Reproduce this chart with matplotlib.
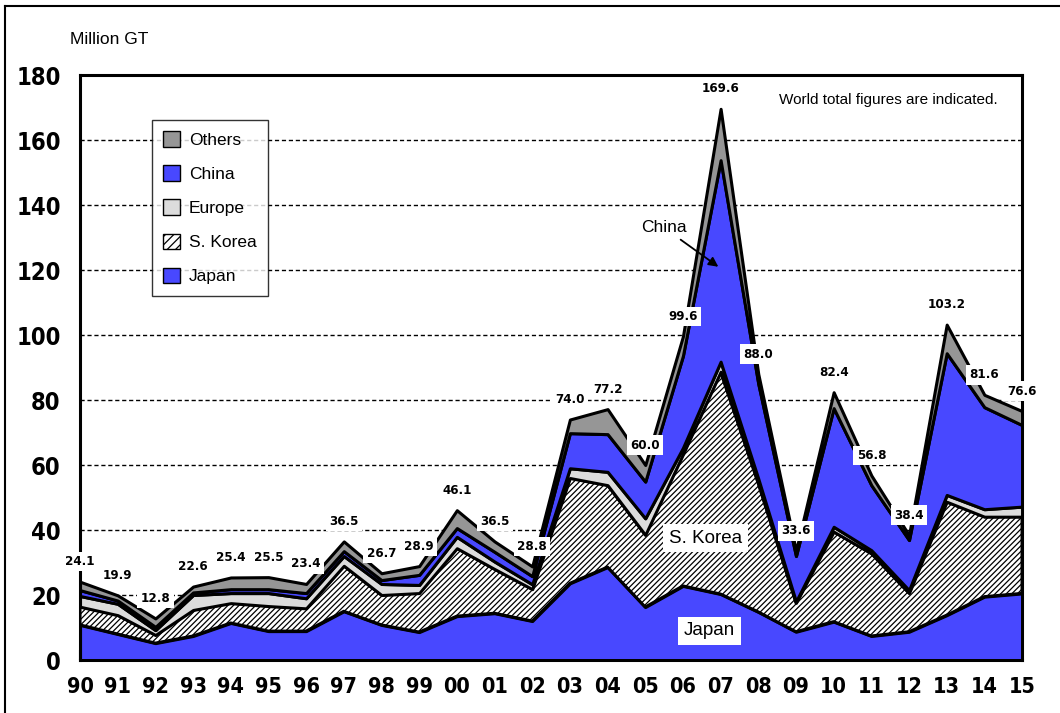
import matplotlib.pyplot as plt
from matplotlib.patches import Patch
from matplotlib.lines import Line2D

plt.rcParams['font.family'] = ['Liberation Sans', 'DejaVu Sans']
plt.rcParams['hatch.linewidth'] = 0.9

years = ['90', '91', '92', '93', '94', '95', '96', '97', '98', '99', '00', '01', '02',
         '03', '04', '05', '06', '07', '08', '09', '10', '11', '12', '13', '14', '15']
japan = [10.8, 8.0, 5.2, 7.4, 11.4, 8.9, 8.9, 15.0, 10.8, 8.6, 13.5, 14.4, 12.0,
         23.6, 28.6, 16.3, 22.8, 20.3, 14.8, 8.7, 11.8, 7.4, 8.7, 13.8, 19.5, 20.5]
korea = [5.6, 5.8, 2.5, 8.0, 6.1, 7.7, 7.0, 14.0, 9.2, 12.0, 20.9, 13.6, 9.8,
         32.4, 25.2, 22.2, 40.5, 68.4, 39.5, 8.9, 27.7, 25.4, 11.9, 34.9, 24.6, 23.6]
europe = [3.3, 3.5, 1.5, 4.6, 3.1, 4.0, 3.1, 3.0, 3.4, 2.5, 3.5, 2.3, 1.5,
          3.0, 4.1, 5.1, 2.0, 3.1, 1.5, 0.4, 1.5, 1.0, 0.9, 2.1, 2.3, 3.1]
china = [1.8, 1.0, 1.0, 0.8, 1.2, 1.2, 1.6, 1.5, 1.2, 3.1, 2.7, 3.0, 2.5,
         10.8, 11.6, 11.3, 28.3, 62.0, 29.2, 14.0, 36.5, 20.0, 15.4, 43.6, 31.4, 25.1]
totals = [24.1, 19.9, 12.8, 22.6, 25.4, 25.5, 23.4, 36.5, 26.7, 28.9, 46.1, 36.5, 28.8,
          74.0, 77.2, 60.0, 99.6, 169.6, 88.0, 33.6, 82.4, 56.8, 38.4, 103.2, 81.6, 76.6]
others = [t - j - k - e - c for t, j, k, e, c in zip(totals, japan, korea, europe, china)]

blue = '#4848FF'
narrow = dict(family=['DejaVu Sans', 'Liberation Sans'], stretch='condensed', weight='bold')
x = list(range(len(years)))

fig = plt.figure(figsize=(10.6, 7.13), dpi=100)
ax = fig.add_axes([0.0755, 0.0743, 0.8887, 0.8205])

polys = ax.stackplot(x, japan, korea, europe, china, others,
                     colors=[blue, 'white', '#DCDCDC', blue, '#969696'],
                     edgecolor='black', linewidth=2.2, zorder=3)
polys[1].set_hatch('//////')

ax.set_xlim(0, len(years) - 1)
ax.set_ylim(0, 180)
ax.set_yticks(range(0, 181, 20))
ax.set_xticks(x)
ax.set_xticklabels(years)
ax.yaxis.grid(True, linestyle=(0, (3, 2)), color='black', linewidth=1.0)
ax.set_axisbelow(True)
ax.tick_params(axis='x', direction='in', length=7, width=1.5, pad=12)
ax.tick_params(axis='y', length=0, pad=14)
for lab in ax.get_xticklabels():
    lab.update(narrow)
    lab.set_fontsize(15.5)
for lab in ax.get_yticklabels():
    lab.update(narrow)
    lab.set_fontsize(17)
for s in ax.spines.values():
    s.set_linewidth(2.2)

# world total labels
for xi, t in zip(x, totals):
    ax.annotate(f'{t:.1f}', (xi, t), xytext=(0, 20), textcoords='offset pixels',
                ha='center', va='center', fontsize=9.5, zorder=6,
                bbox=dict(boxstyle='square,pad=0.25', fc='white', ec='none'),
                annotation_clip=False, **narrow)

ax.annotate('China', xy=(17.0, 120.5), xytext=(15.5, 133), fontsize=12.5,
            ha='center', va='center', zorder=6,
            arrowprops=dict(arrowstyle='-|>', color='black', lw=1.3, mutation_scale=14))
ax.text(16.6, 37.5, 'S. Korea', fontsize=13.5, ha='center', va='center', zorder=6,
        bbox=dict(boxstyle='square,pad=0.3', fc='white', ec='none'))
ax.text(16.7, 9, 'Japan', fontsize=13.5, ha='center', va='center', zorder=6,
        bbox=dict(boxstyle='square,pad=0.3', fc='white', ec='none'))
ax.text(0.974, 0.957, 'World total figures are indicated.', transform=ax.transAxes,
        ha='right', va='center', fontsize=11)
fig.text(0.066, 0.944, 'Million GT', ha='left', va='center', fontsize=12.5)

handles = [Patch(fc='#969696', ec='black', label='Others'),
           Patch(fc=blue, ec='black', label='China'),
           Patch(fc='#DCDCDC', ec='black', label='Europe'),
           Patch(fc='white', ec='black', hatch='////', label='S. Korea'),
           Patch(fc=blue, ec='black', label='Japan')]
leg = ax.legend(handles=handles, loc='upper left', bbox_to_anchor=(0.076, 0.923),
                fontsize=12.5, frameon=True, fancybox=False, edgecolor='black',
                handlelength=1.0, handleheight=1.0, handletextpad=0.5,
                labelspacing=1.0, borderpad=0.65, borderaxespad=0)
leg.get_frame().set_linewidth(1.0)
leg.set_zorder(7)

# partial frame around figure (left and top)
fig.add_artist(Line2D([0.0047, 0.0047], [0.0, 0.9916], color='black', lw=1.5,
                      transform=fig.transFigure))
fig.add_artist(Line2D([0.0047, 1.0], [0.9916, 0.9916], color='black', lw=1.5,
                      transform=fig.transFigure))

fig.savefig('out.png', dpi=100)
